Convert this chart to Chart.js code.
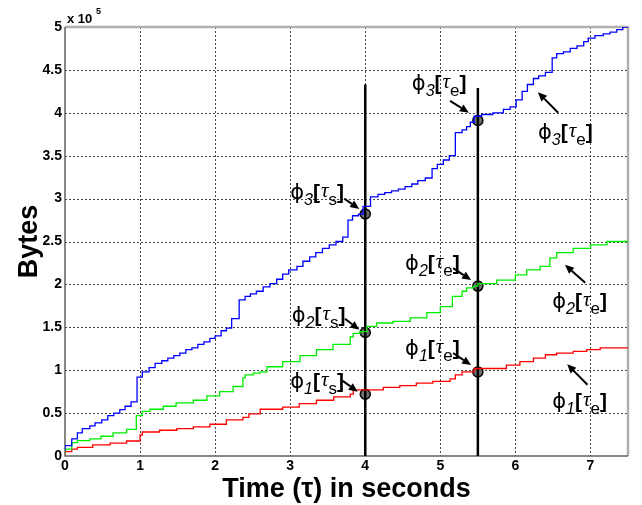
<!DOCTYPE html>
<html>
<head>
<meta charset="utf-8">
<script src="https://cdn.jsdelivr.net/npm/chart.js@4"></script>
<style>
  body { margin: 0; background: #fff; }
  #wrap { width: 642px; height: 505px; }
</style>
</head>
<body>
<div id="wrap"><canvas id="chart"></canvas></div>
<script>
// cumulative bytes (x 10^5) at each step time (s)
var blueT = [0, 0.09, 0.165, 0.23, 0.33, 0.4, 0.49, 0.57, 0.65, 0.73, 0.8, 0.88, 0.96, 1.03, 1.12, 1.2, 1.29, 1.37, 1.45, 1.53, 1.61, 1.69, 1.77, 1.85, 1.93, 2.0, 2.08, 2.15, 2.22, 2.32, 2.4, 2.47, 2.55, 2.64, 2.73, 2.82, 2.9, 2.98, 3.09, 3.17, 3.26, 3.34, 3.43, 3.52, 3.61, 3.7, 3.77, 3.83, 3.91, 3.97, 4.07, 4.17, 4.26, 4.35, 4.44, 4.53, 4.62, 4.7, 4.8, 4.89, 4.96, 5.04, 5.12, 5.2, 5.29, 5.35, 5.4, 5.45, 5.55, 5.7, 5.84, 5.93, 6.01, 6.09, 6.16, 6.24, 6.31, 6.4, 6.49, 6.55, 6.64, 6.73, 6.82, 6.91, 6.97, 7.06, 7.17, 7.26, 7.35, 7.43, 7.49, 7.5];
var blueY = [0.06, 0.12, 0.2, 0.27, 0.32, 0.35, 0.385, 0.42, 0.47, 0.5, 0.54, 0.58, 0.63, 0.92, 0.98, 1.03, 1.08, 1.11, 1.14, 1.17, 1.2, 1.24, 1.26, 1.3, 1.33, 1.37, 1.4, 1.46, 1.49, 1.6, 1.82, 1.86, 1.89, 1.92, 1.97, 2.01, 2.06, 2.12, 2.17, 2.21, 2.27, 2.32, 2.37, 2.42, 2.46, 2.5, 2.55, 2.75, 2.8, 2.82, 2.91, 3.02, 3.05, 3.07, 3.09, 3.11, 3.14, 3.17, 3.21, 3.24, 3.35, 3.4, 3.45, 3.5, 3.77, 3.8, 3.84, 3.89, 3.96, 3.98, 4.0, 4.04, 4.07, 4.15, 4.25, 4.33, 4.4, 4.43, 4.47, 4.64, 4.69, 4.71, 4.75, 4.78, 4.83, 4.87, 4.9, 4.92, 4.94, 4.97, 5.0, 5.0];

var greenT = [0, 0.09, 0.165, 0.33, 0.48, 0.64, 0.82, 0.95, 1.03, 1.13, 1.31, 1.48, 1.71, 1.89, 2.06, 2.24, 2.37, 2.4, 2.51, 2.6, 2.69, 2.9, 3.13, 3.35, 3.57, 3.8, 3.84, 3.93, 4.02, 4.15, 4.37, 4.6, 4.82, 5.0, 5.16, 5.29, 5.35, 5.44, 5.5, 5.75, 6.0, 6.15, 6.33, 6.46, 6.55, 6.77, 7.0, 7.22, 7.45, 7.5];
var greenY = [0.04, 0.08, 0.155, 0.18, 0.2, 0.23, 0.27, 0.31, 0.47, 0.52, 0.545, 0.58, 0.62, 0.65, 0.7, 0.75, 0.81, 0.91, 0.945, 0.965, 0.98, 1.04, 1.1, 1.17, 1.24, 1.3, 1.39, 1.43, 1.45, 1.51, 1.55, 1.57, 1.61, 1.67, 1.74, 1.86, 1.92, 1.96, 1.98, 2.01, 2.05, 2.11, 2.17, 2.21, 2.31, 2.37, 2.42, 2.46, 2.5, 2.5];

var redT = [0, 0.09, 0.165, 0.37, 0.6, 0.82, 1.0, 1.03, 1.26, 1.49, 1.71, 1.93, 2.15, 2.37, 2.45, 2.6, 2.9, 3.12, 3.35, 3.58, 3.8, 3.84, 4.24, 4.46, 4.68, 4.9, 5.13, 5.2, 5.29, 5.45, 5.88, 6.06, 6.24, 6.4, 6.55, 6.77, 6.95, 7.13, 7.45, 7.5];
var redY = [0.02, 0.05, 0.08, 0.1, 0.13, 0.15, 0.175, 0.245, 0.28, 0.3, 0.32, 0.34, 0.37, 0.42, 0.45, 0.49, 0.545, 0.57, 0.61, 0.65, 0.69, 0.72, 0.77, 0.8, 0.82, 0.85, 0.87, 0.9, 0.945, 0.98, 1.02, 1.06, 1.1, 1.14, 1.18, 1.2, 1.22, 1.24, 1.26, 1.26];

// start / end markers
var markX = [4, 4, 4, 5.5, 5.5, 5.5];
var markY = [2.82, 1.44, 0.72, 3.91, 1.98, 0.98];
var tauS = 4, tauE = 5.5;
var lineTopS = 4.33, lineTopE = 4.29;

var xTicks = [0, 1, 2, 3, 4, 5, 6, 7];
var yTicks = [0, 0.5, 1, 1.5, 2, 2.5, 3, 3.5, 4, 4.5, 5];

// labels: [phi index, tau subscript, text x, text y, arrow from x, from y, to x, to y]
var notes = [
  ['3', 's', 3.0, 3.0, 3.72, 3.0, 3.92, 2.88],
  ['2', 's', 3.02, 1.56, 3.73, 1.6, 3.92, 1.47],
  ['1', 's', 3.0, 0.79, 3.7, 0.875, 3.9, 0.75],
  ['3', 'e', 4.62, 4.26, 5.13, 4.14, 5.38, 4.0],
  ['3', 'e', 6.3, 3.69, 6.57, 4.0, 6.3, 4.24],
  ['2', 'e', 4.53, 2.17, 5.17, 2.19, 5.41, 2.05],
  ['1', 'e', 4.53, 1.18, 5.17, 1.2, 5.41, 1.06],
  ['2', 'e', 6.49, 1.73, 6.93, 2.02, 6.66, 2.23],
  ['1', 'e', 6.49, 0.56, 6.96, 0.83, 6.69, 1.07]
];

function pts(xs, ys) {
  return xs.map(function (x, i) { return { x: x, y: ys[i] }; });
}

function stepSet(xs, ys, color) {
  return { data: pts(xs, ys), showLine: true, stepped: 'after', borderColor: color,
           borderWidth: 1.3, pointRadius: 0, fill: false };
}

var SANS = '"Liberation Sans", Arial, sans-serif';

function arrow(ctx, x0, y0, x1, y1) {
  var a = Math.atan2(y1 - y0, x1 - x0), L = 9, W = 4;
  var bx = x1 - L * Math.cos(a), by = y1 - L * Math.sin(a);
  ctx.beginPath();
  ctx.moveTo(x0, y0);
  ctx.lineTo(bx, by);
  ctx.stroke();
  ctx.beginPath();
  ctx.moveTo(x1, y1);
  ctx.lineTo(bx + W * Math.sin(a), by - W * Math.cos(a));
  ctx.lineTo(bx - W * Math.sin(a), by + W * Math.cos(a));
  ctx.closePath();
  ctx.fill();
}

function richLabel(ctx, x, y, idx, sub) {
  var parts = [
    ['\u03D5', '21px "DejaVu Sans"', 0],
    [idx, 'italic 16px ' + SANS, 6],
    ['[', 'bold 21px ' + SANS, 0],
    ['\u03C4', 'italic 21px "Liberation Serif"', -2],
    [sub, '17px ' + SANS, 6],
    [']', 'bold 21px ' + SANS, 0]
  ];
  var cx = x;
  parts.forEach(function (p) {
    ctx.font = p[1];
    ctx.fillText(p[0], cx, y + p[2]);
    cx += ctx.measureText(p[0]).width + (p[0] === '[' ? 1 : 0);
  });
}

var decor = {
  id: 'decor',
  beforeDatasetsDraw: function (chart) {
    var ctx = chart.ctx, a = chart.chartArea;
    var xs = chart.scales.x, ys = chart.scales.y;
    ctx.save();
    // dotted grid
    ctx.lineWidth = 1;
    ctx.strokeStyle = '#444';
    ctx.setLineDash([2, 2]);
    ctx.beginPath();
    xTicks.forEach(function (v) {
      if (v === 0) return;
      var px = Math.round(xs.getPixelForValue(v)) + 0.5;
      ctx.moveTo(px, a.top); ctx.lineTo(px, a.bottom);
    });
    yTicks.forEach(function (v) {
      if (v === 0 || v === 5) return;
      var py = Math.round(ys.getPixelForValue(v)) + 0.5;
      ctx.moveTo(a.left, py); ctx.lineTo(a.right, py);
    });
    ctx.stroke();
    ctx.setLineDash([]);
    // frame
    ctx.lineWidth = 2.5;
    ctx.strokeStyle = '#b0b0b0';
    ctx.beginPath();
    ctx.moveTo(a.left, a.top); ctx.lineTo(a.right, a.top); ctx.lineTo(a.right, a.bottom);
    ctx.stroke();
    ctx.lineWidth = 1.5;
    ctx.strokeStyle = '#606060';
    ctx.beginPath();
    ctx.moveTo(a.left, a.top); ctx.lineTo(a.left, a.bottom); ctx.lineTo(a.right, a.bottom);
    ctx.stroke();
    ctx.restore();
  },
  afterDatasetsDraw: function (chart) {
    var ctx = chart.ctx, a = chart.chartArea;
    var xs = chart.scales.x, ys = chart.scales.y;
    ctx.save();
    ctx.fillStyle = '#000';
    ctx.strokeStyle = '#000';
    ctx.lineWidth = 2;
    ctx.textBaseline = 'alphabetic';
    notes.forEach(function (n) {
      richLabel(ctx, xs.getPixelForValue(n[2]), ys.getPixelForValue(n[3]), n[0], n[1]);
      arrow(ctx, xs.getPixelForValue(n[4]), ys.getPixelForValue(n[5]),
            xs.getPixelForValue(n[6]), ys.getPixelForValue(n[7]));
    });
    // multiplier
    ctx.font = 'bold 13px ' + SANS;
    ctx.textAlign = 'left';
    ctx.fillText('x 10', a.left + 2, 23);
    ctx.font = 'bold 9px ' + SANS;
    ctx.fillText('5', a.left + 31, 14);
    // axis titles
    ctx.font = 'bold 27px ' + SANS;
    ctx.textAlign = 'center';
    ctx.fillText('Time (\u03C4) in seconds', (a.left + a.right) / 2, 497);
    ctx.save();
    ctx.translate(37, (a.top + a.bottom) / 2);
    ctx.rotate(-Math.PI / 2);
    ctx.fillText('Bytes', 0, 0);
    ctx.restore();
    ctx.restore();
  }
};

var ctx = document.getElementById('chart');
var chart = new Chart(ctx, {
  type: 'scatter',
  data: {
    datasets: [
      stepSet(blueT, blueY, '#0000ff'),
      stepSet(greenT, greenY, '#00ee00'),
      stepSet(redT, redY, '#ff0000'),
      { data: [{ x: tauS, y: 0 }, { x: tauS, y: lineTopS }], showLine: true, borderColor: '#000',
        borderWidth: 2.5, pointRadius: 0 },
      { data: [{ x: tauE, y: 0 }, { x: tauE, y: lineTopE }], showLine: true, borderColor: '#000',
        borderWidth: 2.5, pointRadius: 0 },
      { data: pts(markX, markY), pointRadius: 5, pointBackgroundColor: '#707070',
        pointBorderColor: '#000', pointBorderWidth: 1.5 }
    ]
  },
  options: {
    responsive: true,
    maintainAspectRatio: false,
    animation: false,
    events: [],
    layout: { padding: { top: 27, right: 14, left: 0, bottom: 0 } },
    plugins: { legend: { display: false }, tooltip: { enabled: false } },
    scales: {
      x: {
        type: 'linear', min: 0, max: 7.5,
        afterFit: function (s) { s.height = 49; },
        afterBuildTicks: function (s) { s.ticks = xTicks.map(function (v) { return { value: v }; }); },
        ticks: { color: '#000', font: { family: SANS, size: 14, weight: 'bold' }, padding: 2,
                 maxRotation: 0, autoSkip: false, callback: function (v) { return String(v); } },
        grid: { display: false, drawTicks: false, tickLength: 0 },
        border: { display: false }
      },
      y: {
        min: 0, max: 5,
        afterFit: function (s) { s.width = 65; },
        afterBuildTicks: function (s) { s.ticks = yTicks.map(function (v) { return { value: v }; }); },
        ticks: { color: '#000', font: { family: SANS, size: 14, weight: 'bold' }, padding: 3,
                 autoSkip: false, callback: function (v) { return String(v); } },
        grid: { display: false, drawTicks: false, tickLength: 0 },
        border: { display: false }
      }
    }
  },
  plugins: [decor]
});
</script>
</body>
</html>
